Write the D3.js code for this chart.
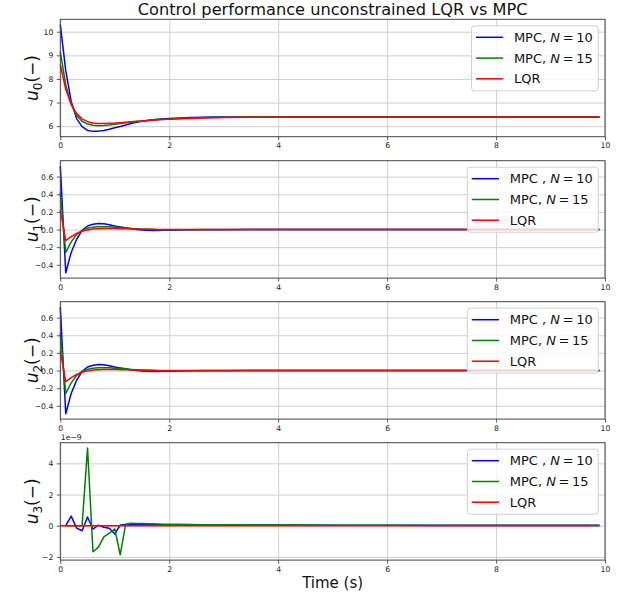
<!DOCTYPE html>
<html>
<head>
<meta charset="utf-8">
<script src="https://cdn.jsdelivr.net/npm/d3@7"></script>
<style>
  body { margin: 0; background: #fff; }
  svg { display: block; font-family: 'DejaVu Sans', sans-serif; }
</style>
</head>
<body>
<div id="chart"></div>
<script>
// Tiempos de muestreo (s)
const time = [0, 0.1, 0.2, 0.3, 0.4, 0.5, 0.6, 0.7, 0.8, 0.9, 1.0, 1.1, 1.2, 1.3, 1.4, 1.5, 1.6, 1.7, 1.8, 1.9, 2.0,
              2.2, 2.4, 2.6, 2.8, 3.0, 3.5, 4, 5, 6, 7, 8, 9, 9.9];

// u0
const u0Mpc10 = [10.30, 8.35, 7.05, 6.32, 5.98, 5.82, 5.78, 5.79, 5.82, 5.87, 5.93, 5.99, 6.05, 6.11, 6.16, 6.21, 6.24, 6.27, 6.29, 6.31, 6.32,
                 6.35, 6.37, 6.38, 6.39, 6.39, 6.39, 6.39, 6.39, 6.39, 6.39, 6.39, 6.39, 6.39];
const u0Mpc15 = [9.15, 7.75, 6.92, 6.45, 6.21, 6.09, 6.04, 6.02, 6.03, 6.05, 6.08, 6.11, 6.14, 6.17, 6.20, 6.22, 6.24, 6.26, 6.28, 6.29, 6.30,
                 6.33, 6.35, 6.36, 6.37, 6.38, 6.39, 6.39, 6.39, 6.39, 6.39, 6.39, 6.39, 6.39];
const u0Lqr   = [8.60, 7.56, 6.92, 6.53, 6.31, 6.19, 6.13, 6.11, 6.11, 6.12, 6.13, 6.15, 6.17, 6.19, 6.21, 6.22, 6.24, 6.25, 6.27, 6.28, 6.29,
                 6.31, 6.33, 6.35, 6.36, 6.37, 6.38, 6.39, 6.39, 6.39, 6.39, 6.39, 6.39, 6.39];

// u1
const u1Mpc10 = [0.72, -0.49, -0.26, -0.11, -0.01, 0.04, 0.06, 0.068, 0.065, 0.055, 0.04, 0.03, 0.02, 0.01, 0.0, -0.005, -0.008, -0.01, -0.01, -0.009, -0.008,
                 -0.005, -0.003, -0.002, -0.001, -0.001, 0, 0, 0, 0, 0, 0, 0, 0];
const u1Mpc15 = [0.42, -0.26, -0.14, -0.055, -0.01, 0.015, 0.027, 0.032, 0.033, 0.031, 0.027, 0.022, 0.017, 0.012, 0.008, 0.005, 0.002, 0.0, -0.001, -0.002, -0.002,
                 -0.001, -0.001, 0, 0, 0, 0, 0, 0, 0, 0, 0, 0, 0];
const u1Lqr   = [0.22, -0.125, -0.08, -0.045, -0.02, -0.004, 0.005, 0.01, 0.012, 0.012, 0.011, 0.01, 0.008, 0.006, 0.005, 0.004, 0.003, 0.002, 0.001, 0.001, 0.0,
                 0, 0, 0, 0, 0, 0, 0, 0, 0, 0, 0, 0, 0];

// u2
const u2Mpc10 = [0.72, -0.49, -0.26, -0.11, -0.01, 0.04, 0.06, 0.068, 0.065, 0.055, 0.04, 0.03, 0.02, 0.01, 0.0, -0.005, -0.008, -0.01, -0.01, -0.009, -0.008,
                 -0.005, -0.003, -0.002, -0.001, -0.001, 0, 0, 0, 0, 0, 0, 0, 0];
const u2Mpc15 = [0.42, -0.26, -0.14, -0.055, -0.01, 0.015, 0.027, 0.032, 0.033, 0.031, 0.027, 0.022, 0.017, 0.012, 0.008, 0.005, 0.002, 0.0, -0.001, -0.002, -0.002,
                 -0.001, -0.001, 0, 0, 0, 0, 0, 0, 0, 0, 0, 0, 0];
const u2Lqr   = [0.22, -0.125, -0.08, -0.045, -0.02, -0.004, 0.005, 0.01, 0.012, 0.012, 0.011, 0.01, 0.008, 0.006, 0.005, 0.004, 0.003, 0.002, 0.001, 0.001, 0.0,
                 0, 0, 0, 0, 0, 0, 0, 0, 0, 0, 0, 0, 0];

// u3 (en unidades de 1e-9)
const u3Mpc10 = [null, 0, 0.62, -0.15, -0.32, 0.56, -0.21, 0.04, -0.10, -0.16, -0.53, 0.04, 0.08, 0.08, 0.08, 0.07, 0.07, 0.07, 0.06, 0.06, 0.06,
                 0.05, 0.05, 0.05, 0.05, 0.04, 0.04, 0.04, 0.03, 0.03, 0.03, 0.03, 0.03, 0.03];
const u3Mpc15 = [null, 0, 0, 0, 0, 4.98, -1.67, -1.37, -0.72, -0.48, -0.20, -1.86, 0.10, 0.16, 0.15, 0.14, 0.13, 0.12, 0.11, 0.10, 0.10,
                 0.09, 0.08, 0.07, 0.07, 0.06, 0.05, 0.04, 0.03, 0.03, 0.02, 0.02, 0.01, 0.01];
const u3Lqr   = [0, 0, 0, 0, 0, 0, 0, 0, 0, 0, 0, 0, 0, 0, 0, 0, 0, 0, 0, 0, 0,
                 0, 0, 0, 0, 0, 0, 0, 0, 0, 0, 0, 0, 0];

// Ticks
const xTicks = [0, 2, 4, 6, 8, 10];
const u0Ticks = [6, 7, 8, 9, 10];
const u1Ticks = [-0.4, -0.2, 0.0, 0.2, 0.4, 0.6];
const u3Ticks = [-2, 0, 2, 4];

// Leyendas ($...$ = cursiva)
const legendFirst = ['MPC, $N$\u2009=\u200910', 'MPC, $N$\u2009=\u200915', 'LQR'];
const legendOther = ['MPC , $N$\u2009=\u200910', 'MPC, $N$\u2009=\u200915', 'LQR'];
const seriesColors = ['#0000ff', '#008000', '#ff0000'];

const width = 622;
const height = 596;
const xLeft = 60.3;
const xRight = 605;
const panelHeight = 117.4;
const panelTops = [19.3, 160.7, 301.7, 442.7];

const svg = d3.select('#chart').append('svg')
    .attr('width', width)
    .attr('height', height);

const x = d3.scaleLinear().domain([0, 10]).range([xLeft, xRight]);

const panels = [
    { series: [u0Mpc10, u0Mpc15, u0Lqr], ticks: u0Ticks, fmt: d3.format('d'), labels: legendFirst, sub: '0' },
    { series: [u1Mpc10, u1Mpc15, u1Lqr], ticks: u1Ticks, fmt: d3.format('.1f'), labels: legendOther, sub: '1' },
    { series: [u2Mpc10, u2Mpc15, u2Lqr], ticks: u1Ticks, fmt: d3.format('.1f'), labels: legendOther, sub: '2' },
    { series: [u3Mpc10, u3Mpc15, u3Lqr], ticks: u3Ticks, fmt: d3.format('d'), labels: legendOther, sub: '3', offset: '1e\u22129' }
];

const minus = s => s.replace('-', '\u2212');

panels.forEach((p, i) => {
    const top = panelTops[i];
    const bottom = top + panelHeight;

    // Dominio con margen del 5% como matplotlib
    const all = p.series.flat().filter(v => v !== null);
    const [lo, hi] = d3.extent(all);
    const pad = (hi - lo) * 0.05;
    const y = d3.scaleLinear().domain([lo - pad, hi + pad]).range([bottom, top]);

    const g = svg.append('g');

    // Rejilla
    g.append('g')
        .attr('transform', `translate(0, ${bottom})`)
        .call(d3.axisBottom(x).tickValues(xTicks).tickSize(-panelHeight).tickFormat(''))
        .call(a => a.select('.domain').remove())
        .selectAll('line').attr('stroke', '#c4c4c4').attr('stroke-width', 0.8);
    g.append('g')
        .attr('transform', `translate(${xLeft}, 0)`)
        .call(d3.axisLeft(y).tickValues(p.ticks).tickSize(-(xRight - xLeft)).tickFormat(''))
        .call(a => a.select('.domain').remove())
        .selectAll('line').attr('stroke', '#c4c4c4').attr('stroke-width', 0.8);

    // Líneas
    const line = d3.line()
        .defined(d => d[1] !== null)
        .x(d => x(d[0]))
        .y(d => y(d[1]));
    p.series.forEach((s, k) => {
        g.append('path')
            .datum(time.map((t, j) => [t, s[j]]))
            .attr('fill', 'none')
            .attr('stroke', seriesColors[k])
            .attr('stroke-width', 1.5)
            .attr('stroke-linejoin', 'round')
            .attr('d', line);
    });

    // Ejes
    const xAxis = g.append('g')
        .attr('transform', `translate(0, ${bottom})`)
        .call(d3.axisBottom(x).tickValues(xTicks).tickSize(3.5).tickPadding(2.5).tickFormat(d3.format('d')));
    const yAxis = g.append('g')
        .attr('transform', `translate(${xLeft}, 0)`)
        .call(d3.axisLeft(y).tickValues(p.ticks).tickSize(3.5).tickPadding(3.5).tickFormat(d => minus(p.fmt(d))));
    [xAxis, yAxis].forEach(a => {
        a.select('.domain').remove();
        a.selectAll('line').attr('stroke', '#333').attr('stroke-width', 0.8);
        a.selectAll('text')
            .attr('fill', '#222')
            .style('font-family', "'DejaVu Sans', sans-serif")
            .style('font-size', '7.7px');
    });

    // Marco
    g.append('rect')
        .attr('x', xLeft)
        .attr('y', top)
        .attr('width', xRight - xLeft)
        .attr('height', panelHeight)
        .attr('fill', 'none')
        .attr('stroke', '#444')
        .attr('stroke-width', 1);

    if (p.offset) {
        g.append('text')
            .attr('x', xLeft + 0.5)
            .attr('y', top - 2.5)
            .attr('fill', '#222')
            .attr('font-size', '7.7px')
            .text(p.offset);
    }

    // Etiqueta del eje Y
    const yl = g.append('text')
        .attr('transform', `translate(38.3, ${(top + bottom) / 2}) rotate(-90)`)
        .attr('text-anchor', 'middle')
        .attr('font-size', '17px')
        .attr('fill', '#111');
    yl.append('tspan').attr('font-style', 'italic').text('u');
    yl.append('tspan').attr('font-size', '12px').attr('dy', '3.5').text(p.sub);
    yl.append('tspan').attr('dy', '-3.5').text('(\u2212)');

    // Leyenda
    const lg = g.append('g');
    const box = lg.append('rect')
        .attr('y', top + 6.5)
        .attr('height', 65)
        .attr('rx', 3)
        .attr('fill', '#fff')
        .attr('fill-opacity', 0.8)
        .attr('stroke', '#d0d0d0')
        .attr('stroke-width', 1);
    const rows = [11.5, 32.3, 53];
    const texts = [];
    p.labels.forEach((lab, k) => {
        const ry = top + 6.5 + rows[k];
        const item = lg.append('g').attr('class', 'item');
        item.append('line')
            .attr('class', 'handle')
            .attr('y1', ry).attr('y2', ry)
            .attr('stroke', seriesColors[k])
            .attr('stroke-width', 1.5);
        const t = item.append('text')
            .attr('y', ry)
            .attr('dy', '0.36em')
            .attr('font-size', '13px')
            .attr('fill', '#111');
        lab.split('$').forEach((part, m) => {
            if (part === '') return;
            t.append('tspan')
                .attr('font-style', m % 2 === 1 ? 'italic' : 'normal')
                .text(part);
        });
        texts.push(t);
    });
    const textW = d3.max(texts, t => t.node().getComputedTextLength());
    const boxRight = xRight - 6.7;
    const boxLeft = boxRight - (4.4 + 27.3 + 10.7 + textW + 5.6);
    box.attr('x', boxLeft).attr('width', boxRight - boxLeft);
    lg.selectAll('.handle').attr('x1', boxLeft + 4.4).attr('x2', boxLeft + 31.7);
    texts.forEach(t => t.attr('x', boxLeft + 42.4));
});

// Título
svg.append('text')
    .attr('x', (xLeft + xRight) / 2)
    .attr('y', 15)
    .attr('text-anchor', 'middle')
    .attr('font-size', '16.2px')
    .attr('fill', '#111')
    .text('Control performance unconstrained LQR vs MPC');

// Etiqueta del eje X
svg.append('text')
    .attr('x', (xLeft + xRight) / 2)
    .attr('y', 588)
    .attr('text-anchor', 'middle')
    .attr('font-size', '15px')
    .attr('fill', '#111')
    .text('Time (s)');
</script>
</body>
</html>
